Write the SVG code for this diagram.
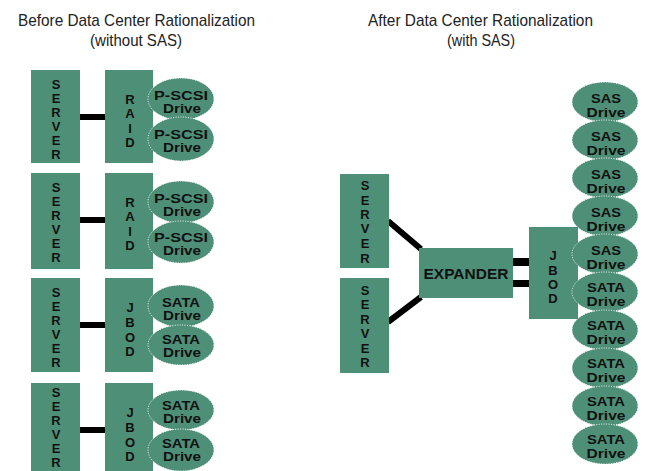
<svg xmlns="http://www.w3.org/2000/svg" width="645" height="471" viewBox="0 0 645 471">
<style>
.box{fill:#4e8f78;}
.drv{fill:#4e8f78;stroke:#ffffff;stroke-width:1;stroke-dasharray:1 1.5;}
.title{font-family:"Liberation Sans",Arial,sans-serif;font-size:17px;fill:#222;}
.lbl{font-family:"Liberation Sans",Arial,sans-serif;font-weight:bold;font-size:13px;fill:#111;text-anchor:middle;}
.dl{font-family:"Liberation Sans",Arial,sans-serif;font-weight:bold;font-size:12.5px;fill:#111;text-anchor:middle;}
.wire{stroke:#000;stroke-width:6;fill:none;}
</style>
<rect width="645" height="471" fill="#ffffff"/>
<g id="titles">
<text class="title" x="18" y="26" textLength="237" lengthAdjust="spacingAndGlyphs">Before Data Center Rationalization</text>
<text class="title" x="90" y="46" textLength="92" lengthAdjust="spacingAndGlyphs">(without SAS)</text>
<text class="title" x="368" y="26" textLength="225" lengthAdjust="spacingAndGlyphs">After Data Center Rationalization</text>
<text class="title" x="447" y="46" textLength="68" lengthAdjust="spacingAndGlyphs">(with SAS)</text>
</g>
<g id="connectors">
<rect x="80" y="114" width="25" height="6" fill="#000"/>
<rect x="80" y="217" width="25" height="6" fill="#000"/>
<rect x="80" y="322" width="25" height="6" fill="#000"/>
<rect x="80" y="427" width="25" height="6" fill="#000"/>
<line class="wire" x1="388" y1="221" x2="421" y2="249"/>
<line class="wire" x1="388" y1="322" x2="421" y2="297"/>
<rect x="513" y="258" width="16" height="8" fill="#000"/>
<rect x="513" y="280" width="16" height="7" fill="#000"/>
</g>
<!-- Row 1 -->
<g id="server1">
<rect class="box" x="31" y="70" width="49" height="93"/>
<text class="lbl"><tspan x="56" y="89">S</tspan><tspan x="56" y="103">E</tspan><tspan x="56" y="117">R</tspan><tspan x="56" y="131">V</tspan><tspan x="56" y="145">E</tspan><tspan x="56" y="159">R</tspan></text>
</g>
<g id="raid1">
<rect class="box" x="105" y="70" width="48" height="93"/>
<text class="lbl"><tspan x="130" y="104">R</tspan><tspan x="130" y="118">A</tspan><tspan x="130" y="133">I</tspan><tspan x="130" y="147">D</tspan></text>
</g>
<g id="drive1a">
<ellipse class="drv" cx="181" cy="99" rx="33" ry="21"/>
<text class="dl"><tspan x="181" y="100" textLength="54" lengthAdjust="spacingAndGlyphs">P-SCSI</tspan><tspan x="182" y="113" textLength="38" lengthAdjust="spacingAndGlyphs">Drive</tspan></text>
</g>
<g id="drive1b">
<ellipse class="drv" cx="181" cy="139" rx="33" ry="22"/>
<text class="dl"><tspan x="181" y="139" textLength="54" lengthAdjust="spacingAndGlyphs">P-SCSI</tspan><tspan x="182" y="152" textLength="38" lengthAdjust="spacingAndGlyphs">Drive</tspan></text>
</g>
<!-- Row 2 -->
<g id="server2">
<rect class="box" x="31" y="173" width="49" height="96"/>
<text class="lbl"><tspan x="56" y="192">S</tspan><tspan x="56" y="206">E</tspan><tspan x="56" y="220">R</tspan><tspan x="56" y="234">V</tspan><tspan x="56" y="248">E</tspan><tspan x="56" y="262">R</tspan></text>
</g>
<g id="raid2">
<rect class="box" x="105" y="173" width="48" height="96"/>
<text class="lbl"><tspan x="130" y="207">R</tspan><tspan x="130" y="221">A</tspan><tspan x="130" y="236">I</tspan><tspan x="130" y="250">D</tspan></text>
</g>
<g id="drive2a">
<ellipse class="drv" cx="181" cy="202" rx="33" ry="21"/>
<text class="dl"><tspan x="181" y="203" textLength="54" lengthAdjust="spacingAndGlyphs">P-SCSI</tspan><tspan x="182" y="216" textLength="38" lengthAdjust="spacingAndGlyphs">Drive</tspan></text>
</g>
<g id="drive2b">
<ellipse class="drv" cx="181" cy="242" rx="33" ry="21"/>
<text class="dl"><tspan x="181" y="242" textLength="54" lengthAdjust="spacingAndGlyphs">P-SCSI</tspan><tspan x="182" y="255" textLength="38" lengthAdjust="spacingAndGlyphs">Drive</tspan></text>
</g>
<!-- Row 3 -->
<g id="server3">
<rect class="box" x="31" y="278" width="49" height="94"/>
<text class="lbl"><tspan x="56" y="297">S</tspan><tspan x="56" y="311">E</tspan><tspan x="56" y="325">R</tspan><tspan x="56" y="339">V</tspan><tspan x="56" y="353">E</tspan><tspan x="56" y="367">R</tspan></text>
</g>
<g id="jbod3">
<rect class="box" x="105" y="278" width="48" height="94"/>
<text class="lbl"><tspan x="130" y="312">J</tspan><tspan x="130" y="327">B</tspan><tspan x="130" y="342">O</tspan><tspan x="130" y="356">D</tspan></text>
</g>
<g id="drive3a">
<ellipse class="drv" cx="181" cy="306" rx="33" ry="21"/>
<text class="dl"><tspan x="181" y="307" textLength="38" lengthAdjust="spacingAndGlyphs">SATA</tspan><tspan x="182" y="320" textLength="38" lengthAdjust="spacingAndGlyphs">Drive</tspan></text>
</g>
<g id="drive3b">
<ellipse class="drv" cx="181" cy="345" rx="33" ry="20"/>
<text class="dl"><tspan x="181" y="344" textLength="38" lengthAdjust="spacingAndGlyphs">SATA</tspan><tspan x="182" y="357" textLength="38" lengthAdjust="spacingAndGlyphs">Drive</tspan></text>
</g>
<!-- Row 4 -->
<g id="server4">
<rect class="box" x="31" y="383" width="49" height="94"/>
<text class="lbl"><tspan x="56" y="397">S</tspan><tspan x="56" y="411">E</tspan><tspan x="56" y="425">R</tspan><tspan x="56" y="439">V</tspan><tspan x="56" y="453">E</tspan><tspan x="56" y="467">R</tspan></text>
</g>
<g id="jbod4">
<rect class="box" x="105" y="383" width="48" height="94"/>
<text class="lbl"><tspan x="130" y="417">J</tspan><tspan x="130" y="432">B</tspan><tspan x="130" y="447">O</tspan><tspan x="130" y="461">D</tspan></text>
</g>
<g id="drive4a">
<ellipse class="drv" cx="181" cy="410" rx="33" ry="20"/>
<text class="dl"><tspan x="181" y="410" textLength="38" lengthAdjust="spacingAndGlyphs">SATA</tspan><tspan x="182" y="423" textLength="38" lengthAdjust="spacingAndGlyphs">Drive</tspan></text>
</g>
<g id="drive4b">
<ellipse class="drv" cx="181" cy="450" rx="33" ry="21"/>
<text class="dl"><tspan x="181" y="448" textLength="38" lengthAdjust="spacingAndGlyphs">SATA</tspan><tspan x="182" y="461" textLength="38" lengthAdjust="spacingAndGlyphs">Drive</tspan></text>
</g>
<!-- Right side -->
<g id="server5">
<rect class="box" x="340" y="174" width="49" height="94"/>
<text class="lbl"><tspan x="365" y="190">S</tspan><tspan x="365" y="205">E</tspan><tspan x="365" y="219">R</tspan><tspan x="365" y="233">V</tspan><tspan x="365" y="248">E</tspan><tspan x="365" y="263">R</tspan></text>
</g>
<g id="server6">
<rect class="box" x="340" y="278" width="49" height="95"/>
<text class="lbl"><tspan x="365" y="295">S</tspan><tspan x="365" y="309">E</tspan><tspan x="365" y="324">R</tspan><tspan x="365" y="338">V</tspan><tspan x="365" y="353">E</tspan><tspan x="365" y="367">R</tspan></text>
</g>
<g id="expander">
<rect class="box" x="419" y="248" width="94" height="50"/>
<text class="lbl" style="font-size:15px" x="466" y="279" textLength="85" lengthAdjust="spacingAndGlyphs">EXPANDER</text>
</g>
<g id="jbod5">
<rect class="box" x="529" y="227" width="49" height="92"/>
<text class="lbl"><tspan x="553" y="260">J</tspan><tspan x="553" y="275">B</tspan><tspan x="553" y="289">O</tspan><tspan x="553" y="303">D</tspan></text>
</g>
<g id="sas1"><ellipse class="drv" cx="605" cy="102" rx="33" ry="20"/><text class="dl"><tspan x="606" y="103" textLength="30" lengthAdjust="spacingAndGlyphs">SAS</tspan><tspan x="606" y="117" textLength="39" lengthAdjust="spacingAndGlyphs">Drive</tspan></text></g>
<g id="sas2"><ellipse class="drv" cx="605" cy="140" rx="33" ry="20"/><text class="dl"><tspan x="606" y="141" textLength="30" lengthAdjust="spacingAndGlyphs">SAS</tspan><tspan x="606" y="155" textLength="39" lengthAdjust="spacingAndGlyphs">Drive</tspan></text></g>
<g id="sas3"><ellipse class="drv" cx="605" cy="178" rx="33" ry="20"/><text class="dl"><tspan x="606" y="179" textLength="30" lengthAdjust="spacingAndGlyphs">SAS</tspan><tspan x="606" y="193" textLength="39" lengthAdjust="spacingAndGlyphs">Drive</tspan></text></g>
<g id="sas4"><ellipse class="drv" cx="605" cy="216" rx="33" ry="20"/><text class="dl"><tspan x="606" y="217" textLength="30" lengthAdjust="spacingAndGlyphs">SAS</tspan><tspan x="606" y="231" textLength="39" lengthAdjust="spacingAndGlyphs">Drive</tspan></text></g>
<g id="sas5"><ellipse class="drv" cx="605" cy="254" rx="33" ry="20"/><text class="dl"><tspan x="606" y="255" textLength="30" lengthAdjust="spacingAndGlyphs">SAS</tspan><tspan x="606" y="269" textLength="39" lengthAdjust="spacingAndGlyphs">Drive</tspan></text></g>
<g id="sata1"><ellipse class="drv" cx="605" cy="292" rx="33" ry="20"/><text class="dl"><tspan x="606" y="292" textLength="38" lengthAdjust="spacingAndGlyphs">SATA</tspan><tspan x="606" y="306" textLength="39" lengthAdjust="spacingAndGlyphs">Drive</tspan></text></g>
<g id="sata2"><ellipse class="drv" cx="605" cy="330" rx="33" ry="20"/><text class="dl"><tspan x="606" y="330" textLength="38" lengthAdjust="spacingAndGlyphs">SATA</tspan><tspan x="606" y="344" textLength="39" lengthAdjust="spacingAndGlyphs">Drive</tspan></text></g>
<g id="sata3"><ellipse class="drv" cx="605" cy="368" rx="33" ry="20"/><text class="dl"><tspan x="606" y="368" textLength="38" lengthAdjust="spacingAndGlyphs">SATA</tspan><tspan x="606" y="382" textLength="39" lengthAdjust="spacingAndGlyphs">Drive</tspan></text></g>
<g id="sata4"><ellipse class="drv" cx="605" cy="406" rx="33" ry="20"/><text class="dl"><tspan x="606" y="406" textLength="38" lengthAdjust="spacingAndGlyphs">SATA</tspan><tspan x="606" y="420" textLength="39" lengthAdjust="spacingAndGlyphs">Drive</tspan></text></g>
<g id="sata5"><ellipse class="drv" cx="605" cy="444" rx="33" ry="20"/><text class="dl"><tspan x="606" y="444" textLength="38" lengthAdjust="spacingAndGlyphs">SATA</tspan><tspan x="606" y="458" textLength="39" lengthAdjust="spacingAndGlyphs">Drive</tspan></text></g>
</svg>
